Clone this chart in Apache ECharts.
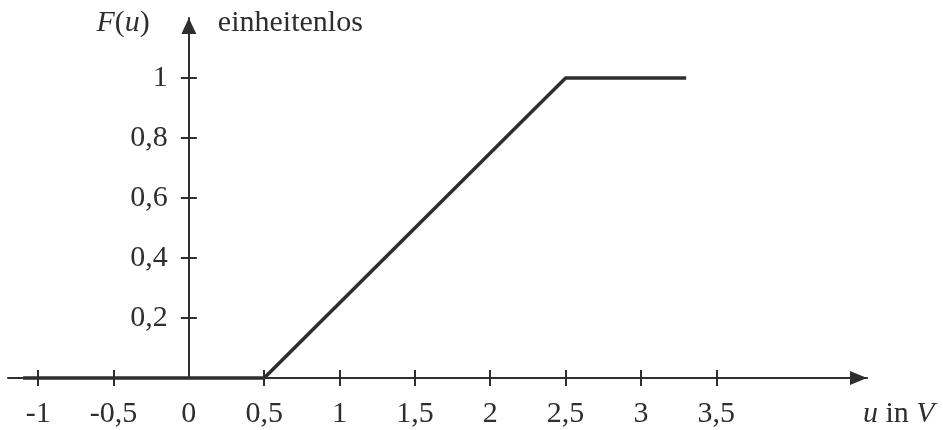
<!DOCTYPE html>
<html><head><meta charset="utf-8">
<script src="https://cdn.jsdelivr.net/npm/echarts@6/dist/echarts.min.js"></script>
<style>html,body{margin:0;padding:0;background:#fff}#c{width:943px;height:430px}</style>
</head><body><div id="c"></div>
<script>
// Data
const uValues = [-1.1, 0.5, 2.5, 3.3];
const fValues = [0, 0, 1, 1];
const xTickValues = [-1, -0.5, 0.5, 1, 1.5, 2, 2.5, 3, 3.5];
const xLabelValues = [-1, -0.5, 0, 0.5, 1, 1.5, 2, 2.5, 3, 3.5];
const yTickValues = [0.2, 0.4, 0.6, 0.8, 1];
const xRange = [-1.2, 4.5];
const yRange = [0, 1.2];
const xName = '{i|u}{n| in }{i|V}';
const yNameRight = 'einheitenlos';
const yNameLeft = '{i|F}{n|(}{i|u}{n|)}';

const INK = '#2e2e2e';
const FONT = '"Liberation Serif", "Times New Roman", serif';
const FS = 30;
const fmt = v => String(v).replace('.', ',');
const rich = {
  i: { fontFamily: FONT, fontSize: FS, fontStyle: 'italic', color: INK },
  n: { fontFamily: FONT, fontSize: FS, color: INK }
};
const lineStyle = { color: INK, width: 2 };

const W = 943, GL = 8, GR = 76;
const gridW = W - GL - GR;
// shift the vertical axis from the grid's left edge to u = 0
const yAxisOffset = -((0 - xRange[0]) / (xRange[1] - xRange[0])) * gridW;

const chart = echarts.init(document.getElementById('c'), null, { renderer: 'canvas' });
chart.setOption({
  animation: false,
  backgroundColor: '#fff',
  grid: { left: GL, right: GR, top: 18, bottom: 52, containLabel: false, outerBoundsMode: 'none' },
  xAxis: [
    {
      type: 'value', min: xRange[0], max: xRange[1], position: 'bottom',
      axisLine: { show: true, onZero: false, lineStyle, symbol: ['none', 'triangle'], symbolSize: [14, 17], symbolOffset: [0, -8.5] },
      axisTick: { show: true, inside: false, length: 8, lineStyle, customValues: xTickValues },
      axisLabel: { show: true, margin: 21, customValues: xLabelValues, formatter: fmt,
        fontFamily: FONT, fontSize: FS, color: INK },
      splitLine: { show: false },
      name: xName, nameLocation: 'end', nameGap: -4,
      nameTextStyle: { align: 'left', verticalAlign: 'top', padding: [21, 0, 0, 0], rich }
    },
    {
      type: 'value', min: xRange[0], max: xRange[1], position: 'bottom',
      axisLine: { show: false, onZero: false },
      axisTick: { show: true, inside: true, length: 8, lineStyle, customValues: xTickValues },
      axisLabel: { show: false },
      splitLine: { show: false }
    }
  ],
  yAxis: [
    {
      type: 'value', min: yRange[0], max: yRange[1], position: 'left', offset: yAxisOffset,
      axisLine: { show: true, onZero: false, lineStyle, symbol: ['none', 'triangle'], symbolSize: [15, 16], symbolOffset: [0, -8] },
      axisTick: { show: true, inside: false, length: 8, lineStyle, customValues: yTickValues },
      axisLabel: { show: true, margin: 21, customValues: yTickValues, formatter: fmt,
        fontFamily: FONT, fontSize: FS, color: INK, padding: [9, 0, 0, 0] },
      splitLine: { show: false },
      name: yNameRight, nameLocation: 'end', nameGap: -5,
      nameTextStyle: { align: 'left', verticalAlign: 'middle', padding: [0, 0, 0, 29],
        fontFamily: FONT, fontSize: FS, color: INK }
    },
    {
      type: 'value', min: yRange[0], max: yRange[1], position: 'left', offset: yAxisOffset,
      axisLine: { show: false, onZero: false },
      axisTick: { show: true, inside: true, length: 8, lineStyle, customValues: yTickValues },
      axisLabel: { show: false },
      splitLine: { show: false },
      name: yNameLeft, nameLocation: 'end', nameGap: -5,
      nameTextStyle: { align: 'right', verticalAlign: 'middle', padding: [0, 39, 0, 0], rich }
    }
  ],
  series: [{
    type: 'line', xAxisIndex: 0, yAxisIndex: 0,
    data: uValues.map((u, i) => [u, fValues[i]]),
    showSymbol: false, symbol: 'none', clip: false, silent: true,
    lineStyle: { color: INK, width: 3.5 }
  }]
});
</script></body></html>
